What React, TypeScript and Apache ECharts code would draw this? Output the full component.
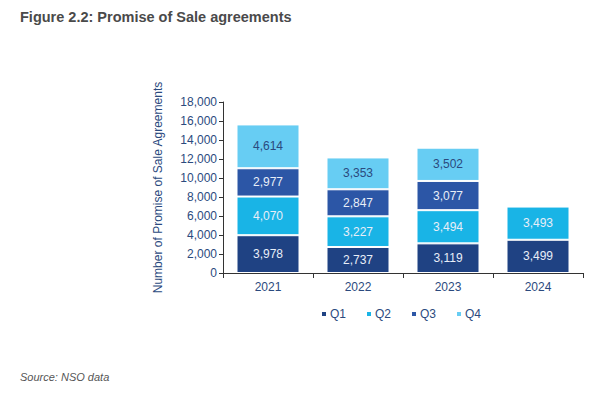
import React, { useEffect, useRef } from "react";
import * as echarts from "echarts";

const years = ["2021", "2022", "2023", "2024"];
const q1 = [3978, 2737, 3119, 3499];
const q2 = [4070, 3227, 3494, 3493];
const q3: (number | null)[] = [2977, 2847, 3077, null];
const q4: (number | null)[] = [4614, 3353, 3502, null];
const seriesNames = ["Q1", "Q2", "Q3", "Q4"];
const colors = ["#1F4283", "#19B4E6", "#2C56A6", "#67CDF3"];
const labelColors = ["#E8EEF8", "#E8EEF8", "#E8EEF8", "#2B4A7E"];

export default function App() {
  const ref = useRef<HTMLDivElement>(null);
  useEffect(() => {
    if (!ref.current) return;
    const chart = echarts.init(ref.current, null, { renderer: "svg" });
    const data = [q1, q2, q3, q4];
    const font = "'Liberation Sans', Arial, sans-serif";
    chart.setOption({
      animation: false,
      backgroundColor: "#ffffff",
      textStyle: { fontFamily: font },
      title: [
        {
          text: "Figure 2.2: Promise of Sale agreements",
          left: 20,
          top: 9,
          padding: 0,
          textStyle: { fontSize: 14.5, fontWeight: "bold", color: "#4A4A4A", fontFamily: font },
        },
        {
          text: "Source: NSO data",
          left: 20,
          top: 371,
          padding: 0,
          textStyle: { fontSize: 11, fontStyle: "italic", fontWeight: "normal", color: "#555555", fontFamily: font },
        },
      ],
      legend: {
        left: 320,
        top: 308,
        padding: 0,
        icon: "rect",
        itemWidth: 6,
        itemHeight: 6,
        itemGap: 19,
        data: seriesNames,
        textStyle: { fontSize: 12, color: "#2B4A7E", fontFamily: font, padding: [0, 0, 0, -2] },
      },
      grid: { left: 223, right: 17, top: 102, bottom: 122, containLabel: false },
      xAxis: {
        type: "category",
        data: years,
        axisLine: { lineStyle: { color: "#333333" } },
        axisTick: { show: true, alignWithLabel: false, lineStyle: { color: "#333333" } },
        axisLabel: { color: "#2B4A7E", fontSize: 12, margin: 8 },
      },
      yAxis: {
        type: "value",
        min: 0,
        max: 18000,
        interval: 2000,
        name: "Number of Promise of Sale Agreements",
        nameLocation: "middle",
        nameGap: 59,
        nameTextStyle: { color: "#2B4A7E", fontSize: 12 },
        axisLine: { show: true, lineStyle: { color: "#333333" } },
        axisTick: { show: true, length: 4, lineStyle: { color: "#333333" } },
        splitLine: { show: false },
        axisLabel: {
          color: "#2B4A7E",
          fontSize: 12,
          margin: 6,
          formatter: (v: number) => v.toLocaleString("en-US"),
        },
      },
      series: seriesNames.map((name, i) => ({
        name,
        type: "bar",
        stack: "total",
        barWidth: "70%",
        data: data[i],
        itemStyle: { color: colors[i], borderColor: "#ffffff", borderWidth: 1 },
        label: {
          show: true,
          position: "inside",
          color: labelColors[i],
          fontSize: 12,
          formatter: (p: any) => (p.value == null ? "" : Number(p.value).toLocaleString("en-US")),
        },
      })),
    });
    return () => chart.dispose();
  }, []);
  return (
    <div
      ref={ref}
      style={{ position: "fixed", left: 0, top: 0, width: 600, height: 395 }}
    />
  );
}
